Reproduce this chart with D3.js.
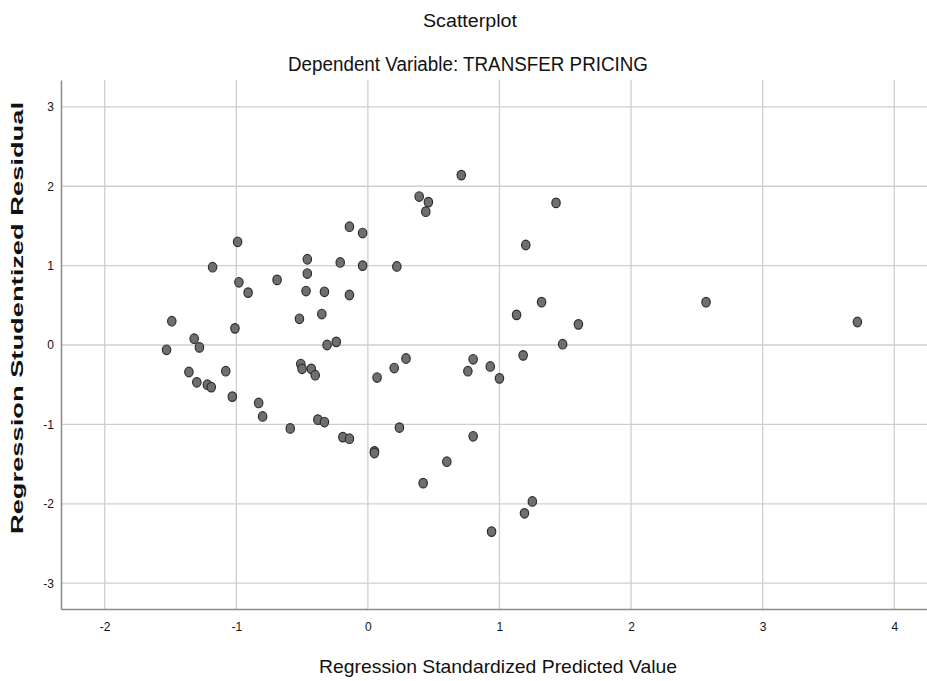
<!DOCTYPE html>
<html>
<head>
<meta charset="utf-8">
<script src="https://cdn.jsdelivr.net/npm/d3@7/dist/d3.min.js"></script>
<style>
	body { margin: 0; background: #fff; }
	text { font-family: "Liberation Sans Narrow", "Arial Narrow", "Liberation Sans", Arial, sans-serif; fill: #111; }
</style>
</head>
<body>
<div id="chart"></div>
<script>
// Regression Standardized Predicted Value
const predicted = [
	0.71, 0.39, 0.46, 0.44, 1.43, -0.99, -0.14, -0.04, 1.20, -0.46,
	-1.18, -0.21, -0.04, 0.22, -0.69, -0.98, -0.91, -0.46, -0.47, -0.33,
	-0.14, -1.49, -1.01, -0.52, -0.35, 1.32, 2.57, 3.72, 1.13, 1.60,
	-1.53, -1.32, -1.28, -0.31, -0.24, 1.48, -1.36, -1.30, -1.22, -1.19,
	-1.08, -1.03, -0.51, -0.50, -0.43, -0.40, 0.07, 0.20, 0.29, 0.80,
	0.76, 1.18, 0.93, 1.00, -0.83, -0.80, -0.59, -0.38, -0.33, -0.19,
	-0.14, 0.05, 0.05, 0.24, 0.80, 0.60, 0.42, 1.25, 1.19, 0.94
];
// Regression Studentized Residual
const residual = [
	2.14, 1.87, 1.80, 1.68, 1.79, 1.30, 1.49, 1.41, 1.26, 1.08,
	0.98, 1.04, 1.00, 0.99, 0.82, 0.79, 0.66, 0.90, 0.68, 0.67,
	0.63, 0.30, 0.21, 0.33, 0.39, 0.54, 0.54, 0.29, 0.38, 0.26,
	-0.06, 0.08, -0.03, 0.00, 0.04, 0.01, -0.34, -0.47, -0.50, -0.53,
	-0.33, -0.65, -0.24, -0.30, -0.30, -0.38, -0.41, -0.29, -0.17, -0.18,
	-0.33, -0.13, -0.27, -0.42, -0.73, -0.90, -1.05, -0.94, -0.97, -1.16,
	-1.18, -1.34, -1.36, -1.04, -1.15, -1.47, -1.74, -1.97, -2.12, -2.35
];
const xTicks = [-2, -1, 0, 1, 2, 3, 4];
const yTicks = [-3, -2, -1, 0, 1, 2, 3];

const width = 927, height = 681;
const plot = { left: 61, top: 80, bottom: 609, right: 927 };

let svg = d3.select('#chart').append('svg')
	.attr('width', width)
	.attr('height', height);

let x = d3.scaleLinear()
	.domain([-2.332, 4.249])
	.range([plot.left, plot.right]);
let y = d3.scaleLinear()
	.domain([-3.325, 3.338])
	.range([plot.bottom, plot.top]);

// grid
let grid = svg.append('g').attr('class', 'grid');
grid.selectAll('.vgrid')
	.data(xTicks)
	.enter().append('line')
	.attr('x1', d => x(d)).attr('x2', d => x(d))
	.attr('y1', plot.top).attr('y2', plot.bottom)
	.attr('stroke', '#cfcfcf')
	.attr('stroke-width', 1.3);
grid.selectAll('.hgrid')
	.data(yTicks)
	.enter().append('line')
	.attr('x1', plot.left).attr('x2', plot.right)
	.attr('y1', d => y(d)).attr('y2', d => y(d))
	.attr('stroke', '#cfcfcf')
	.attr('stroke-width', 1.3);

// axes (no tick marks, just line + labels; plain hyphen like SPSS)
let axis_x = d3.axisBottom(x).tickValues(xTicks).tickSize(0).tickPadding(13).tickFormat(d => String(d));
let axis_y = d3.axisLeft(y).tickValues(yTicks).tickSize(0).tickPadding(7).tickFormat(d => String(d));

let gx = svg.append('g')
	.attr('transform', `translate(0,${plot.bottom})`)
	.call(axis_x);
let gy = svg.append('g')
	.attr('transform', `translate(${plot.left},0)`)
	.call(axis_y);

[gx, gy].forEach(g => {
	g.select('.domain').attr('stroke', '#8a8a8a').attr('stroke-width', 1.5);
	g.selectAll('text')
		.style('font-family', '"Liberation Sans Narrow", "Arial Narrow", "Liberation Sans", Arial, sans-serif')
		.style('font-size', '12px')
		.attr('fill', '#222');
});

// points
let pts = d3.zip(predicted, residual);
svg.append('g').attr('class', 'points')
	.selectAll('ellipse')
	.data(pts)
	.enter().append('ellipse')
	.attr('cx', d => x(d[0]))
	.attr('cy', d => y(d[1]))
	.attr('rx', 4.2)
	.attr('ry', 4.8)
	.attr('fill', '#6f6f6f')
	.attr('stroke', '#2e2e2e')
	.attr('stroke-width', 1.2);

// titles
svg.append('text')
	.attr('x', 470).attr('y', 27)
	.attr('text-anchor', 'middle')
	.attr('textLength', 94).attr('lengthAdjust', 'spacingAndGlyphs')
	.style('font-size', '18px')
	.text('Scatterplot');
svg.append('text')
	.attr('x', 468).attr('y', 71)
	.attr('text-anchor', 'middle')
	.attr('textLength', 360).attr('lengthAdjust', 'spacingAndGlyphs')
	.style('font-size', '20px')
	.text('Dependent Variable: TRANSFER PRICING');
svg.append('text')
	.attr('x', 498).attr('y', 673)
	.attr('text-anchor', 'middle')
	.attr('textLength', 358).attr('lengthAdjust', 'spacingAndGlyphs')
	.style('font-size', '19px')
	.text('Regression Standardized Predicted Value');
svg.append('text')
	.attr('transform', 'translate(23,318) rotate(-90)')
	.attr('text-anchor', 'middle')
	.attr('textLength', 432).attr('lengthAdjust', 'spacingAndGlyphs')
	.style('font-family', '"Liberation Sans", Arial, sans-serif')
	.style('font-size', '17px')
	.style('font-weight', 'bold')
	.text('Regression Studentized Residual');
</script>
</body>
</html>
